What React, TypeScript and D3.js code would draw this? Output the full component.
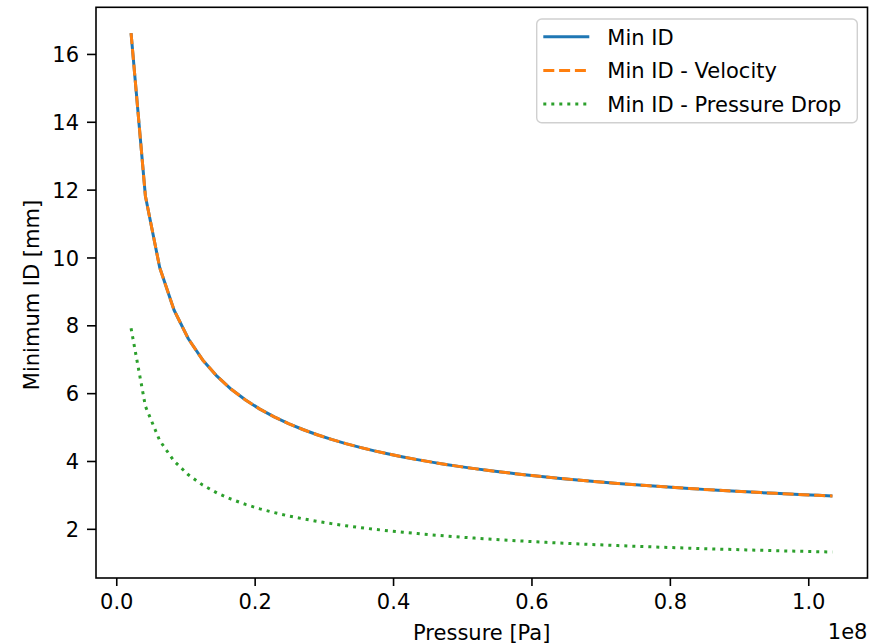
import React from "react";
import * as d3 from "d3";

// Pressure in MPa (plotted in Pa, axis shown in units of 1e8)
const pressureMPa = [
  2.068, 4.137, 6.205, 8.274, 10.342, 12.411, 14.479, 16.547, 18.616, 20.684,
  22.753, 24.821, 26.889, 28.958, 31.026, 33.095, 35.163, 37.232, 39.3, 41.368,
  43.437, 45.505, 47.574, 49.642, 51.711, 53.779, 55.847, 57.916, 59.984, 62.053,
  64.121, 66.189, 68.258, 70.326, 72.395, 74.463, 76.532, 78.6, 80.668, 82.737,
  84.805, 86.874, 88.942, 91.011, 93.079, 95.147, 97.216, 99.284, 101.353, 103.421,
];

const minID = [
  16.625, 11.829, 9.717, 8.466, 7.618, 6.995, 6.514, 6.129, 5.811, 5.544,
  5.316, 5.118, 4.943, 4.789, 4.652, 4.528, 4.416, 4.314, 4.22, 4.134,
  4.055, 3.981, 3.913, 3.849, 3.79, 3.734, 3.682, 3.632, 3.585, 3.542,
  3.5, 3.46, 3.423, 3.387, 3.353, 3.32, 3.29, 3.26, 3.232, 3.205,
  3.178, 3.153, 3.129, 3.106, 3.083, 3.062, 3.042, 3.021, 3.003, 2.984,
];

const minIDVelocity = [
  16.625, 11.829, 9.717, 8.466, 7.618, 6.995, 6.514, 6.129, 5.811, 5.544,
  5.316, 5.118, 4.943, 4.789, 4.652, 4.528, 4.416, 4.314, 4.22, 4.134,
  4.055, 3.981, 3.913, 3.849, 3.79, 3.734, 3.682, 3.632, 3.585, 3.542,
  3.5, 3.46, 3.423, 3.387, 3.353, 3.32, 3.29, 3.26, 3.232, 3.205,
  3.178, 3.153, 3.129, 3.106, 3.083, 3.062, 3.042, 3.021, 3.003, 2.984,
];

const minIDPressureDrop = [
  7.926, 5.63, 4.617, 4.015, 3.607, 3.307, 3.074, 2.888, 2.734, 2.604,
  2.493, 2.396, 2.311, 2.235, 2.168, 2.107, 2.052, 2.002, 1.955, 1.913,
  1.874, 1.837, 1.803, 1.771, 1.741, 1.713, 1.687, 1.662, 1.639, 1.617,
  1.596, 1.575, 1.557, 1.538, 1.521, 1.504, 1.489, 1.473, 1.459, 1.445,
  1.431, 1.418, 1.406, 1.394, 1.382, 1.371, 1.361, 1.35, 1.34, 1.33,
];

const xTicks = [0, 0.2e8, 0.4e8, 0.6e8, 0.8e8, 1.0e8];
const yTicks = [2, 4, 6, 8, 10, 12, 14, 16];

const seriesNames = ["Min ID", "Min ID - Velocity", "Min ID - Pressure Drop"];

const W = 877;
const H = 644;
const left = 96;
const right = 867.5;
const top = 7.3;
const bottom = 578;
const FONT = "DejaVu Sans, sans-serif";
const FS = 21;

export default function App() {
  const pressurePa = pressureMPa.map((p) => p * 1e6);
  const [xmin, xmax] = d3.extent(pressurePa) as [number, number];
  const xm = (xmax - xmin) * 0.05;
  const allY = [...minID, ...minIDVelocity, ...minIDPressureDrop];
  const [ymin, ymax] = d3.extent(allY) as [number, number];
  const ym = (ymax - ymin) * 0.05;

  const x = d3.scaleLinear().domain([xmin - xm, xmax + xm]).range([left, right]);
  const y = d3.scaleLinear().domain([ymin - ym, ymax + ym]).range([bottom, top]);

  const line = d3
    .line<number>()
    .x((_, i) => x(pressurePa[i]))
    .y((d) => y(d));

  const series = [
    { name: seriesNames[0], data: minID, color: "#1f77b4", dash: undefined },
    { name: seriesNames[1], data: minIDVelocity, color: "#ff7f0e", dash: "11,4.8" },
    { name: seriesNames[2], data: minIDPressureDrop, color: "#2ca02c", dash: "3,5" },
  ];

  const legendX = 536.7;
  const legendY = 19;
  const legendW = 320.6;
  const legendH = 103.7;
  const rowY = [36.8, 70.4, 104];

  return (
    <svg
      width={W}
      height={H}
      style={{ position: "absolute", left: 0, top: 0, background: "#fff" }}
      fontFamily={FONT}
    >
      <rect x={0} y={0} width={W} height={H} fill="#fff" />
      <defs>
        <clipPath id="plotclip">
          <rect x={left} y={top} width={right - left} height={bottom - top} />
        </clipPath>
      </defs>

      <g clipPath="url(#plotclip)">
        {series.map((s) => (
          <path
            key={s.name}
            d={line(s.data) || ""}
            fill="none"
            stroke={s.color}
            strokeWidth={3}
            strokeDasharray={s.dash}
            strokeLinejoin="round"
          />
        ))}
      </g>

      {/* spines */}
      <rect
        x={left}
        y={top}
        width={right - left}
        height={bottom - top}
        fill="none"
        stroke="#000"
        strokeWidth={1.6}
      />

      {/* x ticks */}
      {xTicks.map((t) => (
        <g key={"x" + t}>
          <line x1={x(t)} x2={x(t)} y1={bottom} y2={bottom + 8} stroke="#000" strokeWidth={1.6} />
          <text x={x(t)} y={bottom + 31} textAnchor="middle" fontSize={FS} fill="#000">
            {(t / 1e8).toFixed(1)}
          </text>
        </g>
      ))}

      {/* y ticks */}
      {yTicks.map((t) => (
        <g key={"y" + t}>
          <line x1={left - 9} x2={left} y1={y(t)} y2={y(t)} stroke="#000" strokeWidth={1.6} />
          <text x={left - 17} y={y(t) + 7.6} textAnchor="end" fontSize={FS} fill="#000">
            {t}
          </text>
        </g>
      ))}

      {/* axis labels */}
      <text x={(left + right) / 2} y={639.5} textAnchor="middle" fontSize={FS} fill="#000">
        Pressure [Pa]
      </text>
      <text x={right} y={638.5} textAnchor="end" fontSize={FS} fill="#000">
        1e8
      </text>
      <text
        transform={`translate(38.5, ${295}) rotate(-90)`}
        textAnchor="middle"
        fontSize={FS}
        fill="#000"
      >
        Minimum ID [mm]
      </text>

      {/* legend */}
      <rect
        x={legendX}
        y={legendY}
        width={legendW}
        height={legendH}
        rx={5}
        ry={5}
        fill="#fff"
        fillOpacity={0.8}
        stroke="#d0d0d0"
        strokeWidth={1.4}
      />
      {series.map((s, i) => (
        <g key={"leg" + s.name}>
          <line
            x1={543.3}
            x2={589.3}
            y1={rowY[i]}
            y2={rowY[i]}
            stroke={s.color}
            strokeWidth={3}
            strokeDasharray={s.dash}
          />
          <text x={607.3} y={rowY[i] + 8} fontSize={FS} fill="#000">
            {s.name}
          </text>
        </g>
      ))}
    </svg>
  );
}
